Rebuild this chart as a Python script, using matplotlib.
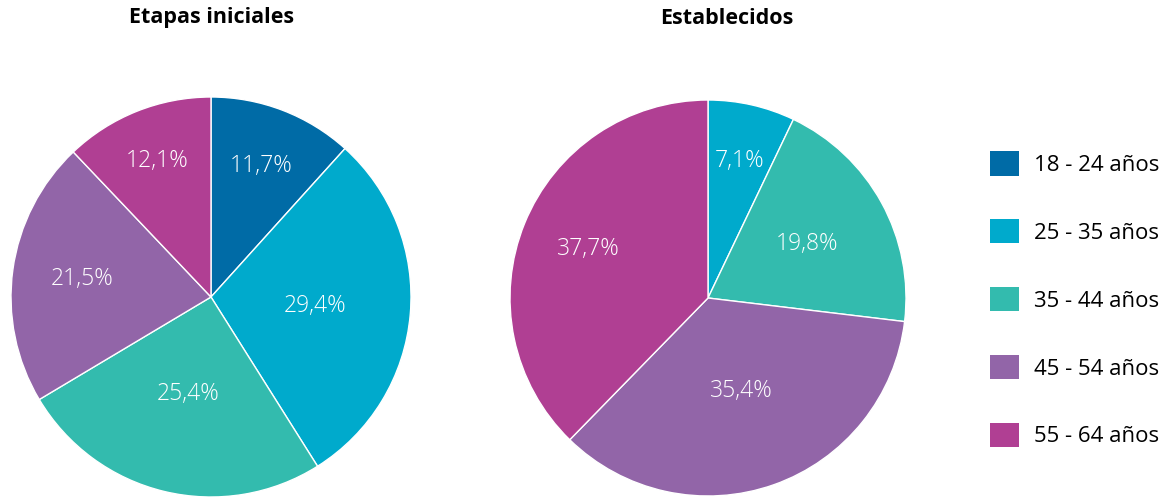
import matplotlib
matplotlib.use("Agg")
import matplotlib.pyplot as plt
from matplotlib.patches import Patch
import numpy as np

plt.rcParams['font.family'] = ['Open Sans', 'DejaVu Sans']

grupos = ['18 - 24 años', '25 - 35 años', '35 - 44 años', '45 - 54 años', '55 - 64 años']
colores = ['#006BA6', '#00AACC', '#33BBAE', '#9265A8', '#B03F93']

iniciales = [11.7, 29.4, 25.4, 21.5, 12.1]
establecidos = [0.0, 7.1, 19.8, 35.4, 37.7]

# distance of each percent label from the centre (fraction of radius)
dist_ini = [0.70, 0.52, 0.50, 0.65, 0.73]
dist_est = [0.0, 0.71, 0.57, 0.50, 0.65]

fig = plt.figure(figsize=(11.73, 4.99), dpi=100)


def pastel(rect, valores, dist, titulo, tx):
    ax = fig.add_axes(rect)
    wedges, _ = ax.pie(valores, colors=colores, startangle=90, counterclock=False,
                       wedgeprops=dict(edgecolor='white', linewidth=1))
    total = sum(valores)
    acum = 0
    for v, d in zip(valores, dist):
        if v > 0:
            mid = np.deg2rad(90 - 360 * (acum + v / 2) / total)
            ax.text(d * np.cos(mid), d * np.sin(mid), f"{v:.1f}%".replace('.', ','),
                    ha='center', va='center', color='white', fontsize=16.5,
                    fontweight='light')
        acum += v
    for w in wedges:
        w.set_clip_on(False)
    ax.set_xlim(-1, 1)
    ax.set_ylim(-1, 1)
    ax.set_aspect('equal')
    ax.axis('off')
    fig.text(tx, 1 - 18 / 499, titulo, ha='center', va='center',
             fontsize=15.5, fontweight='bold')


pastel([10 / 1173, 2 / 499, 402 / 1173, 400 / 499], iniciales, dist_ini, 'Etapas iniciales', 212 / 1173)
pastel([510 / 1173, 2 / 499, 396 / 1173, 398 / 499], establecidos, dist_est, 'Establecidos', 727 / 1173)

handles = [Patch(facecolor=c) for c in colores]
fig.legend(handles, grupos, loc='center left', bbox_to_anchor=(970 / 1173, 0.40),
           frameon=False, fontsize=16, handlelength=1.3, handleheight=1.3,
           handletextpad=0.7, labelspacing=1.95)

fig.savefig('out.png', dpi=100)
